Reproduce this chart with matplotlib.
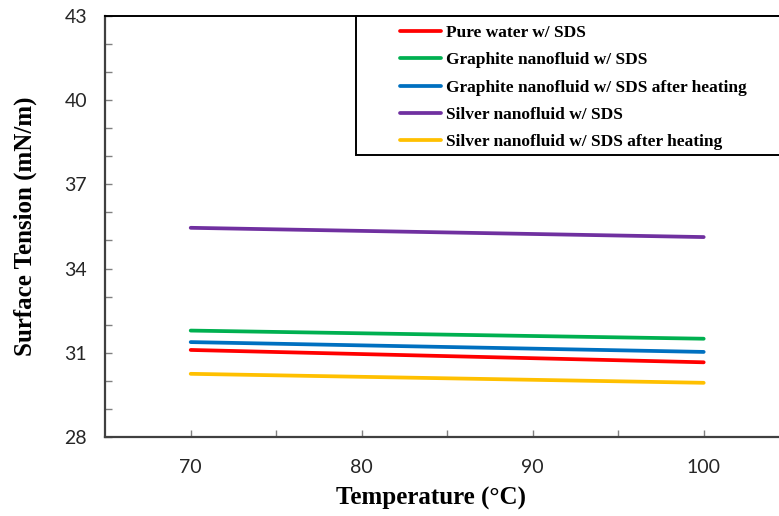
import matplotlib
matplotlib.use("Agg")
import matplotlib.pyplot as plt
from matplotlib.patches import Rectangle

# Surface tension vs temperature
temperature = [70, 100]
pure_water_sds = [31.10, 30.66]
graphite_sds = [31.79, 31.50]
graphite_sds_heated = [31.38, 31.03]
silver_sds = [35.45, 35.12]
silver_sds_heated = [30.25, 29.93]

x_ticks = [70, 80, 90, 100]
x_minor = [75, 85, 95]
y_ticks = [28, 31, 34, 37, 40, 43]
y_minor = [29, 30, 32, 33, 35, 36, 38, 39, 41, 42]

series = [
    ("Pure water w/ SDS", pure_water_sds, "#FF0000"),
    ("Graphite nanofluid w/ SDS", graphite_sds, "#00B050"),
    ("Graphite nanofluid w/ SDS after heating", graphite_sds_heated, "#0070C0"),
    ("Silver nanofluid w/ SDS", silver_sds, "#7030A0"),
    ("Silver nanofluid w/ SDS after heating", silver_sds_heated, "#FFC000"),
]

W, H = 779, 516
fig = plt.figure(figsize=(W / 100, H / 100), dpi=100)
ax = fig.add_axes([105.2 / W, 1 - 437 / H, 684 / W, 421.2 / H])

for label, vals, color in series:
    ax.plot(temperature, vals, color=color, lw=2.7, solid_capstyle="round", label=label)

ax.set_xlim(65, 105)
ax.set_ylim(28, 43)
ax.set_xticks(x_ticks)
ax.set_xticks(x_minor, minor=True)
ax.set_yticks(y_ticks)
ax.set_yticks(y_minor, minor=True)

spine_color = "#404040"
for s in ["left", "bottom"]:
    ax.spines[s].set_color(spine_color)
    ax.spines[s].set_linewidth(1.6)
ax.spines["top"].set_color("black")
ax.spines["top"].set_linewidth(1.4)
ax.spines["right"].set_visible(False)

ax.tick_params(axis="both", which="both", direction="in", length=5, width=1,
               color="#808080", top=False, right=False)
ax.tick_params(axis="y", which="major", labelsize=14, pad=13)
ax.tick_params(axis="x", which="major", labelsize=14, pad=16)
for lab in ax.get_xticklabels() + ax.get_yticklabels():
    lab.set_fontfamily("Lato")
    lab.set_color("#262626")

# Axis titles
fig.text(431 / W, 1 - 498 / H, "Temperature (°C)", ha="center", va="center",
         fontfamily="Liberation Serif", fontweight="bold", fontsize=18)
fig.text(25 / W, 1 - 226 / H, "Surface Tension (mN/m)", ha="center", va="center",
         rotation=90, fontfamily="Liberation Serif", fontweight="bold", fontsize=18)

# Legend box
fig.patches.append(Rectangle((356 / W, 1 - 155 / H), 460 / W, 139 / H,
                             transform=fig.transFigure, fill=True, facecolor="white",
                             edgecolor="black", lw=1.4, zorder=5))
leg = fig.legend(loc="upper left", bbox_to_anchor=(393 / W, 1 - 18 / H),
                 frameon=False, handlelength=2.35, handletextpad=0.28,
                 labelspacing=0.64, borderaxespad=0,
                 prop={"family": "Liberation Serif", "weight": "bold", "size": 12.5})
leg.set_zorder(6)

fig.savefig("out.png", dpi=100)
